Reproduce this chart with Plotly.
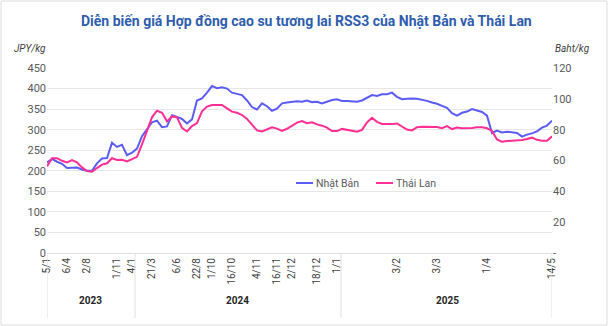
import plotly.graph_objects as go

# ---- data (category index positions along a trading-day axis) ----
nhat_ban = [220, 229, 222, 217, 207, 207, 208, 203, 200, 200,
            218, 230, 231, 268, 258, 263, 238, 244, 254, 284,
            301, 318, 322, 306, 308, 335, 331, 326, 315, 325,
            371, 376, 390, 406, 401, 403, 400, 390, 387, 384,
            371, 355, 349, 364, 357, 346, 351, 364, 366, 368,
            369, 368, 371, 367, 368, 364, 368, 372, 374, 370,
            370, 369, 368, 371, 378, 384, 382, 386, 386, 390,
            380, 374, 375, 376, 375, 373, 370, 366, 363, 358,
            353, 340, 334, 341, 344, 350, 346, 343, 334, 292,
            298, 293, 295, 293, 292, 283, 288, 291, 296, 305,
            310, 322]
thai_lan = [56.2, 61.5, 61.5, 59.8, 58.8, 60.2, 58.8, 55.5, 53.2, 52.7,
            55.1, 57.3, 58.2, 61.5, 60.4, 60.5, 59.4, 60.7, 62.4, 70.5,
            79.9, 88.0, 92.3, 91.0, 85.4, 88.6, 88.0, 81.2, 78.8, 82.3,
            84.3, 91.9, 95.0, 96.0, 96.0, 96.0, 93.8, 91.7, 91.0, 89.5,
            87.0, 83.0, 79.5, 78.8, 79.9, 81.5, 80.7, 79.2, 80.6, 82.8,
            84.6, 85.6, 84.2, 84.8, 83.4, 82.6, 81.3, 79.1, 79.1, 80.5,
            79.8, 79.6, 78.7, 79.9, 84.7, 87.7, 85.1, 83.7, 83.5, 83.6,
            84.0, 81.8, 80.1, 79.5, 81.6, 81.9, 81.9, 81.6, 81.7, 80.9,
            82.3, 80.4, 81.4, 81.0, 80.9, 81.1, 81.5, 81.5, 80.9, 79.2,
            73.6, 72.2, 72.6, 72.9, 72.8, 73.3, 73.9, 74.8, 73.4, 72.8,
            72.8, 75.7]
tick_pos = [0, 4, 8, 14, 17, 21, 26, 30, 33, 37, 42, 46, 49, 54, 58, 70, 78, 88, 101]
tick_labels = ["5/1", "6/4", "2/8", "1/11", "4/1", "21/3", "6/6", "22/8", "1/10", "16/10",
               "4/11", "16/11", "2/12", "18/12", "1/1", "3/2", "3/3", "1/4", "14/5"]
years = ["2023", "2024", "2025"]
year_centers = [8.6, 38, 80]
year_bounds = [0, 17.6, 58.8, 101]
left_ticks = list(range(0, 451, 50))
right_ticks = list(range(0, 121, 20))
right_labels = ["-"] + [str(v) for v in right_ticks[1:]]

BLUE = "#5B5CF6"
PINK = "#FF2E93"
FONT = "Roboto"

x = list(range(len(nhat_ban)))

fig = go.Figure()
fig.add_trace(go.Scatter(x=x, y=nhat_ban, mode="lines", name="Nhật Bản",
                         line=dict(color=BLUE, width=2), showlegend=False))
fig.add_trace(go.Scatter(x=x, y=thai_lan, mode="lines", name="Thái Lan", yaxis="y2",
                         line=dict(color=PINK, width=2), showlegend=False))

W, H = 608, 326
L, R, T, B = 47, 56, 68, 73
pw, ph = W - L - R, H - T - B

def px_x(p):
    return (p - L) / pw

def px_y(p):
    return (H - B - p) / ph

fig.update_layout(
    width=W, height=H,
    margin=dict(l=L, r=R, t=T, b=B),
    paper_bgcolor="white", plot_bgcolor="white",
    font=dict(family=FONT, color="#595959"),
    xaxis=dict(range=[0, 101], tickvals=tick_pos, ticktext=tick_labels,
               tickangle=-90, tickfont=dict(size=10, color="#404040"),
               showgrid=False, zeroline=False, showline=True, linecolor="#E0E0E0",
               ticks="", ticklen=0),
    yaxis=dict(range=[0, 450], tickvals=left_ticks, showgrid=True, gridcolor="#E6E6E6",
               zeroline=False, tickfont=dict(size=11, color="#595959"), ticks=""),
    yaxis2=dict(range=[0, 120], tickvals=right_ticks, ticktext=right_labels,
                overlaying="y", side="right", showgrid=False, zeroline=False,
                tickfont=dict(size=11, color="#595959"), ticks=""),
)

ann = []
ann.append(dict(text="<b>Diễn biến giá Hợp đồng cao su tương lai RSS3 của Nhật Bản và Thái Lan</b>",
                xref="paper", yref="paper", x=px_x(306), y=px_y(21), showarrow=False,
                font=dict(size=14, color="#2E5DAD", family=FONT), xanchor="center", yanchor="middle"))
ann.append(dict(text="<i>JPY/kg</i>", xref="paper", yref="paper", x=px_x(12), y=px_y(48),
                showarrow=False, xanchor="left", yanchor="middle", font=dict(size=10, color="#404040")))
ann.append(dict(text="<i>Baht/kg</i>", xref="paper", yref="paper", x=px_x(592), y=px_y(48),
                showarrow=False, xanchor="right", yanchor="middle", font=dict(size=10, color="#404040")))
for yr, c in zip(years, year_centers):
    ann.append(dict(text="<b>" + yr + "</b>", xref="x", yref="paper", x=c, y=px_y(300),
                    showarrow=False, xanchor="center", yanchor="middle",
                    font=dict(size=10, color="#262626")))
# legend
leg = [("Nhật Bản", BLUE, 296), ("Thái Lan", PINK, 376)]
shapes = []
for name, col, x0 in leg:
    shapes.append(dict(type="line", xref="paper", yref="paper", x0=px_x(x0), x1=px_x(x0 + 17),
                       y0=px_y(183), y1=px_y(183), line=dict(color=col, width=2)))
    ann.append(dict(text=name, xref="paper", yref="paper", x=px_x(x0 + 18), y=px_y(183),
                    showarrow=False, xanchor="left", yanchor="middle",
                    font=dict(size=10.5, color="#595959")))
for b in year_bounds:
    shapes.append(dict(type="line", xref="x", yref="paper", x0=b, x1=b,
                       y0=0, y1=px_y(318), line=dict(color="#E0E0E0", width=1)))
shapes.append(dict(type="rect", xref="paper", yref="paper", x0=px_x(1), x1=px_x(607),
                   y0=px_y(325), y1=px_y(1), line=dict(color="#DDDDDD", width=1), layer="below"))
fig.update_layout(annotations=ann, shapes=shapes)

fig.write_html("out.html")
